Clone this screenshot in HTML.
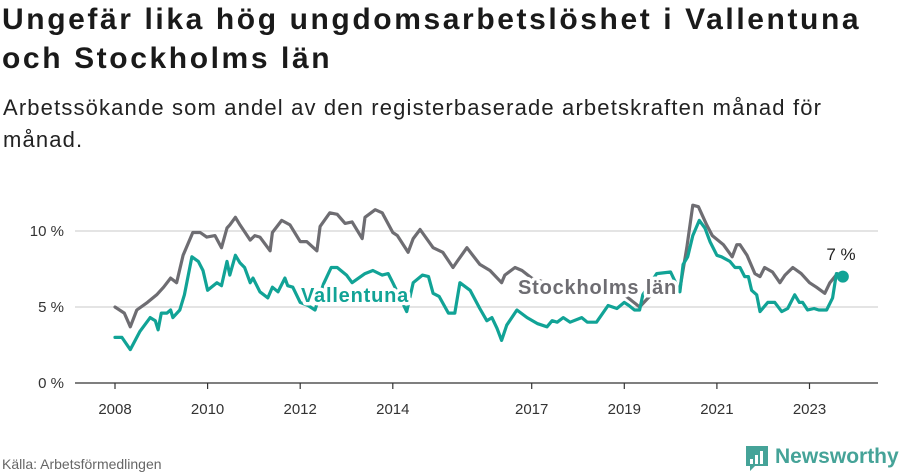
<!DOCTYPE html>
<html><head><meta charset="utf-8"><style>
body{margin:0;width:900px;height:474px;background:#fff;font-family:"Liberation Sans",sans-serif;overflow:hidden;position:relative}
h1{position:absolute;left:2px;top:0px;margin:0;font-size:30px;line-height:39px;font-weight:bold;color:#1a1a1a;letter-spacing:2.6px}
.sub{position:absolute;left:3px;top:92px;font-size:22px;line-height:32px;color:#222;letter-spacing:1.15px}
svg{position:absolute;left:0;top:0}
</style></head><body>
<h1>Ungefär lika hög ungdomsarbetslöshet i Vallentuna<br>och Stockholms län</h1>
<div class="sub">Arbetssökande som andel av den registerbaserade arbetskraften månad för<br>månad.</div>
<svg id="chart" width="900" height="474"></svg>
<script>
const yearTicks=[2008,2010,2012,2014,2017,2019,2021,2023];
const yTicks=[0,5,10];
const sthlmDates=[2008.0,2008.2,2008.33,2008.47,2008.7,2008.9,2009.05,2009.2,2009.33,2009.47,2009.68,2009.84,2009.98,2010.16,2010.3,2010.42,2010.48,2010.6,2010.7,2010.92,2011.02,2011.13,2011.35,2011.4,2011.6,2011.78,2012.0,2012.14,2012.36,2012.43,2012.64,2012.8,2012.97,2013.12,2013.34,2013.4,2013.62,2013.77,2014.0,2014.1,2014.33,2014.44,2014.59,2014.87,2015.08,2015.3,2015.39,2015.6,2015.88,2016.1,2016.35,2016.42,2016.64,2016.79,2017.0,2017.4,2017.8,2018.2,2018.6,2019.0,2019.33,2019.7,2020.0,2020.2,2020.35,2020.48,2020.6,2020.78,2020.9,2021.14,2021.33,2021.43,2021.5,2021.65,2021.82,2021.93,2022.03,2022.2,2022.36,2022.47,2022.64,2022.82,2023.0,2023.15,2023.33,2023.44,2023.6,2023.72];
const sthlmValues=[5.0,4.6,3.7,4.8,5.3,5.8,6.3,6.9,6.6,8.4,9.9,9.9,9.6,9.7,8.9,10.2,10.4,10.9,10.4,9.4,9.7,9.6,8.7,9.9,10.7,10.4,9.3,9.3,8.7,10.3,11.2,11.1,10.5,10.6,9.5,10.9,11.4,11.2,9.9,9.7,8.6,9.5,10.1,8.9,8.6,7.6,8.0,8.9,7.8,7.4,6.6,7.1,7.6,7.4,6.9,6.5,6.3,6.2,6.0,5.8,5.0,6.2,6.4,6.2,8.9,11.7,11.6,10.4,9.7,9.1,8.3,9.1,9.1,8.4,7.2,7.0,7.6,7.3,6.6,7.1,7.6,7.2,6.6,6.3,5.9,6.6,7.2,7.0];
const valDates=[2008.0,2008.15,2008.33,2008.54,2008.76,2008.87,2008.93,2009.0,2009.12,2009.2,2009.25,2009.4,2009.5,2009.66,2009.8,2009.9,2010.0,2010.2,2010.3,2010.42,2010.48,2010.6,2010.7,2010.8,2010.92,2010.98,2011.13,2011.3,2011.4,2011.52,2011.67,2011.73,2011.84,2012.0,2012.17,2012.32,2012.5,2012.67,2012.8,2013.0,2013.12,2013.4,2013.57,2013.77,2013.9,2014.0,2014.3,2014.44,2014.64,2014.77,2014.87,2015.0,2015.2,2015.34,2015.45,2015.67,2015.88,2016.03,2016.14,2016.25,2016.35,2016.46,2016.68,2016.9,2017.13,2017.33,2017.44,2017.55,2017.68,2017.83,2018.08,2018.2,2018.4,2018.65,2018.84,2019.0,2019.1,2019.22,2019.33,2019.4,2019.55,2019.7,2020.0,2020.2,2020.27,2020.37,2020.48,2020.62,2020.74,2020.85,2021.0,2021.1,2021.28,2021.39,2021.5,2021.6,2021.68,2021.75,2021.86,2021.93,2022.1,2022.25,2022.4,2022.53,2022.68,2022.78,2022.85,2022.96,2023.1,2023.2,2023.37,2023.5,2023.58,2023.72];
const valValues=[3.0,3.0,2.2,3.4,4.3,4.1,3.5,4.6,4.6,4.8,4.3,4.8,5.8,8.3,8.0,7.4,6.1,6.6,6.4,8.0,7.1,8.4,7.9,7.6,6.6,6.9,6.0,5.6,6.3,6.0,6.9,6.4,6.3,5.3,5.1,4.8,6.5,7.6,7.6,7.1,6.6,7.2,7.4,7.1,7.2,6.6,4.7,6.6,7.1,7.0,5.9,5.7,4.6,4.6,6.6,6.1,4.9,4.1,4.3,3.6,2.8,3.8,4.8,4.3,3.9,3.7,4.1,4.0,4.3,4.0,4.3,4.0,4.0,5.1,4.9,5.3,5.1,4.8,4.8,5.8,6.5,7.2,7.3,6.0,7.8,8.3,9.7,10.7,10.2,9.3,8.4,8.3,8.0,7.6,7.6,7.0,7.0,6.1,5.8,4.7,5.3,5.3,4.7,4.9,5.8,5.3,5.3,4.8,4.9,4.8,4.8,5.6,7.2,7.0];

const NS='http://www.w3.org/2000/svg';
const svg=document.getElementById('chart');
const X=yr=>115+(yr-2008)*46.3;
const Y=v=>383-v*15.2;
function mk(tag,attrs,parent){const e=document.createElementNS(NS,tag);for(const k in attrs)e.setAttribute(k,attrs[k]);(parent||svg).appendChild(e);return e;}

yTicks.forEach(t=>{
  if(t>0){const g=mk('line',{x1:75,x2:878,y1:Y(t),y2:Y(t),stroke:'#dcdcdc','stroke-width':1.5});
  
  }
  const l=mk('text',{x:64,y:Y(t)+5,'text-anchor':'end','font-size':15,fill:'#333','font-family':'Liberation Sans, sans-serif'});
  l.textContent=t+' %';
  
  
});
const ax=mk('line',{x1:75,x2:878,y1:383,y2:383,stroke:'#333','stroke-width':1.2});


yearTicks.forEach(yr=>{
  const tk=mk('line',{x1:X(yr),x2:X(yr),y1:383,y2:389,stroke:'#333','stroke-width':1.2});
  
  
  const l=mk('text',{x:X(yr),y:414,'text-anchor':'middle','font-size':15,fill:'#333','font-family':'Liberation Sans, sans-serif'});
  l.textContent=yr;
  
  
});
function path(d,v){return d.map((t,i)=>(i?'L':'M')+X(t).toFixed(1)+','+Y(v[i]).toFixed(1)).join('');}
const ps=mk('path',{d:path(sthlmDates,sthlmValues),fill:'none',stroke:'#6e6d72','stroke-width':3.2,'stroke-linejoin':'round','stroke-linecap':'round'});


const pv=mk('path',{d:path(valDates,valValues),fill:'none',stroke:'#11a396','stroke-width':3.2,'stroke-linejoin':'round','stroke-linecap':'round'});


const dot=mk('circle',{cx:X(valDates[valDates.length-1]),cy:Y(valValues[valValues.length-1]),r:6,fill:'#11a396'});


const lv=mk('text',{x:841,y:260,'text-anchor':'middle','font-size':17,fill:'#222','font-family':'Liberation Sans, sans-serif'});
lv.textContent='7 %';


const sl=mk('text',{x:518,y:294,'font-size':20,'font-weight':'bold','letter-spacing':0.8,fill:'#6e6d72',stroke:'#fff','stroke-width':7,'paint-order':'stroke','stroke-linejoin':'round','font-family':'Liberation Sans, sans-serif'});
sl.textContent='Stockholms län';


const vl=mk('text',{x:301,y:302,'font-size':20,'font-weight':'bold','letter-spacing':0.8,fill:'#11a396',stroke:'#fff','stroke-width':7,'paint-order':'stroke','stroke-linejoin':'round','font-family':'Liberation Sans, sans-serif'});
vl.textContent='Vallentuna';


const src=mk('text',{x:2,y:469,'font-size':14,fill:'#666','font-family':'Liberation Sans, sans-serif'});
src.textContent='Källa: Arbetsförmedlingen';


const logo=mk('g',{});


mk('path',{d:'M746,446 h22 v20 h-13 l-5,5 v-5 h-4 z',fill:'#45a398'},logo);
[[750,459,3,5],[755,455,3,9],[760,451,3,13]].forEach(b=>mk('rect',{x:b[0],y:b[1],width:b[2],height:b[3],fill:'#fff'},logo));
const lt=mk('text',{x:775,y:463,'font-size':21,'font-weight':'bold',fill:'#45a398','font-family':'Liberation Sans, sans-serif'},logo);
lt.textContent='Newsworthy';
</script>
</body></html>
